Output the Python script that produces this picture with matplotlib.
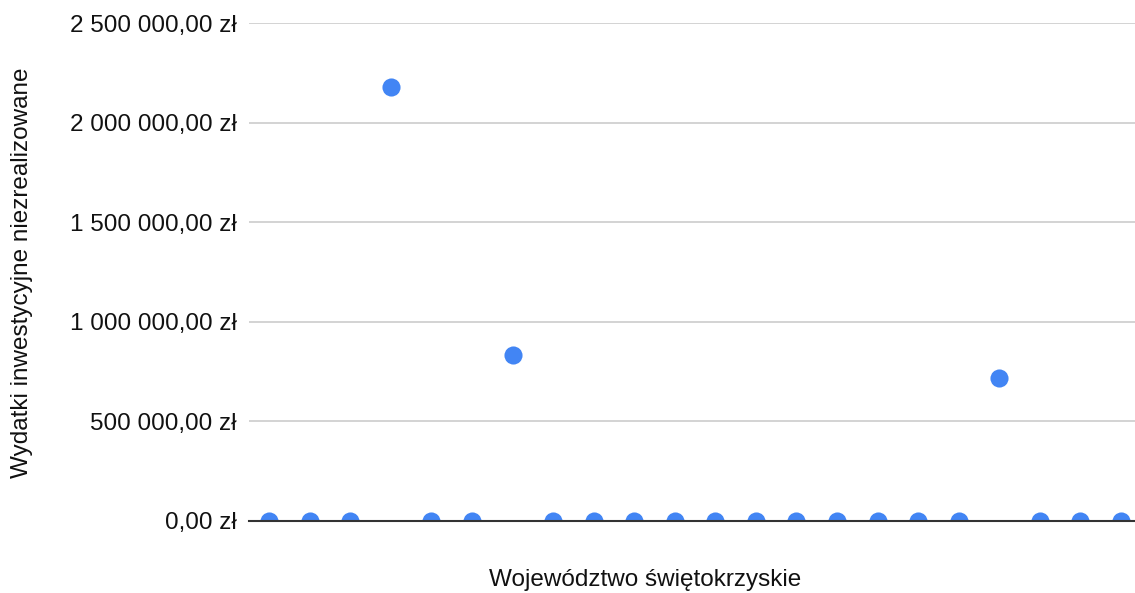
import matplotlib.pyplot as plt
from matplotlib.ticker import FuncFormatter

# dane (22 pozycje)
pozycje = list(range(22))
wydatki = [0, 0, 0, 2181000, 0, 0, 834000, 0, 0, 0, 0,
           0, 0, 0, 0, 0, 0, 0, 717000, 0, 0, 0]
y_ticks = [0, 500000, 1000000, 1500000, 2000000, 2500000]

plt.rcParams['font.family'] = ['Liberation Sans', 'DejaVu Sans']


def pln(v, pos=None):
    s = f"{v:,.2f}".replace(",", " ").replace(".", ",")
    return s + " zł"


fig = plt.figure(figsize=(11.35, 5.93), dpi=100)
ax = fig.add_axes([249 / 1135, 72 / 593, 886 / 1135, 497.7 / 593])

ax.scatter(pozycje, wydatki, s=170, color="#4285F4", zorder=3,
           linewidths=0, clip_on=True)

ax.set_xlim(-0.5, 21.35)
ax.set_ylim(0, 2500000)
ax.set_yticks(y_ticks)
ax.yaxis.set_major_formatter(FuncFormatter(pln))
ax.set_xticks([])
ax.tick_params(axis="y", length=0, pad=9, labelsize=17.5, labelcolor="#111111")

ax.grid(axis="y", color="#cccccc", linewidth=1.2)
ax.set_axisbelow(True)
for side in ["top", "right", "left"]:
    ax.spines[side].set_visible(False)
ax.spines["bottom"].set_color("#333333")
ax.spines["bottom"].set_linewidth(1.5)
ax.spines["bottom"].set_zorder(4)

fig.text(22 / 1135, 1 - 273 / 593, "Wydatki inwestycyjne niezrealizowane",
         rotation=90, ha="center", va="center", fontsize=17.5, color="#111111")
fig.text(645 / 1135, 1 - 580 / 593, "Województwo świętokrzyskie",
         ha="center", va="center", fontsize=17.5, color="#111111")

fig.savefig("out.png", dpi=100)
